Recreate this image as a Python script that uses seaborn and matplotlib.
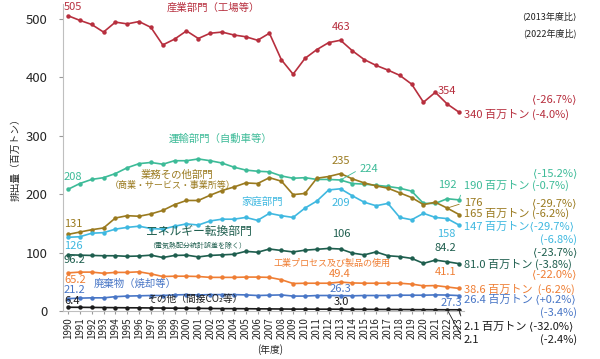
import matplotlib
matplotlib.use("Agg")
from matplotlib import pyplot as plt
import pandas as pd
import seaborn as sns

sns.set_style("ticks")
plt.rcParams['font.family'] = ['Noto Sans CJK JP', 'DejaVu Sans']

# data (million t CO2), fiscal years 1990-2023
years = list(range(1990, 2024))
industry = [505, 497, 490, 477, 494, 491, 495, 485, 455, 465,
            479, 466, 475, 477, 472, 469, 463, 475, 430, 405,
            432, 447, 459, 463, 445, 430, 420, 412, 403, 388,
            357, 374, 354, 340]
transport = [208, 218, 225, 228, 235, 245, 252, 254, 251, 257,
             257, 260, 257, 253, 246, 241, 239, 238, 231, 227,
             228, 225, 225, 224, 218, 217, 215, 213, 210, 205,
             184, 184, 192, 190]
commercial = [131, 135, 139, 142, 159, 163, 162, 166, 172, 182,
              189, 189, 198, 206, 212, 219, 218, 228, 222, 199,
              201, 227, 230, 235, 226, 219, 214, 210, 202, 194,
              182, 186, 176, 165]
household = [126, 127, 133, 134, 140, 143, 145, 141, 140, 145,
             149, 147, 154, 157, 157, 160, 155, 167, 163, 160,
             176, 188, 207, 209, 197, 186, 180, 184, 160, 156,
             167, 160, 158, 147]
energy = [96.2, 95.5, 95, 94.5, 94.5, 93.5, 94, 95.5, 91.5, 95,
          95.5, 92.5, 95, 96, 97, 102, 100.5, 106, 103.5, 101,
          104, 105.5, 107, 106, 99, 96, 101, 94.5, 93, 90,
          81.5, 87, 84.2, 81.0]
processes = [65.2, 66.5, 66.5, 64.5, 66, 66, 67, 63.5, 59, 59.5,
             59.5, 59, 57.5, 57.5, 57.5, 58, 58, 57.5, 53.5, 47,
             47.5, 47.5, 47.5, 49.4, 48, 47.5, 47.5, 47.5, 47.5, 46,
             43, 43.5, 41.1, 38.6]
waste = [21.2, 22, 22.5, 22.5, 24.5, 25.5, 26, 26.5, 26.5, 27.5,
         28, 27.5, 28, 28, 28, 27.5, 26.5, 27, 27.5, 25.5,
         25.5, 26.5, 26.5, 26.3, 26, 26.5, 26.5, 26.5, 27, 27,
         27, 27.5, 27.3, 26.4]
other = [6.4, 6.3, 6.1, 5.9, 5.7, 5.5, 5.4, 5.2, 5.0, 4.8,
         4.7, 4.5, 4.3, 4.1, 4.0, 3.9, 3.7, 3.6, 3.4, 3.2,
         3.2, 3.1, 3.1, 3.0, 2.9, 2.8, 2.7, 2.6, 2.5, 2.4,
         2.3, 2.2, 2.1, 2.1]

c_ind = '#b72f3e'
c_tra = '#3dbb98'
c_com = '#9a7a1f'
c_hou = '#3fb8e0'
c_ene = '#1e5e4e'
c_pro = '#ef7e34'
c_was = '#4876c6'
c_oth = '#1a1a1a'

series = {
    'industry': (industry, c_ind),
    'transport': (transport, c_tra),
    'commercial': (commercial, c_com),
    'household': (household, c_hou),
    'energy': (energy, c_ene),
    'processes': (processes, c_pro),
    'waste': (waste, c_was),
    'other': (other, c_oth),
}
df = pd.concat([pd.DataFrame({'year': years, 'value': v, 'sector': k})
                for k, (v, c) in series.items()], ignore_index=True)
palette = {k: c for k, (v, c) in series.items()}

fig = plt.figure(figsize=(6, 3.59), dpi=100)
ax = fig.add_axes([63 / 600, 1 - 311 / 359, 401 / 600, 307 / 359])
sns.lineplot(data=df, x='year', y='value', hue='sector', palette=palette,
             marker='o', markersize=3.2, markeredgewidth=0, linewidth=1.2,
             legend=False, ax=ax)

ax.set_xlim(1989.58, 2023.42)
ax.set_ylim(0, 525)
ax.set_yticks([0, 100, 200, 300, 400, 500])
ax.set_xticks(years)
ax.set_xticklabels([str(y) for y in years], rotation=90, fontsize=7)
ax.tick_params(axis='x', length=2.5, pad=2, color='#999999')
ax.tick_params(axis='y', labelsize=9.5, length=3, pad=8, color='#999999')
ax.set_xlabel('')
ax.set_ylabel('排出量（百万トン）', fontsize=7, labelpad=4)
sns.despine(ax=ax)
for s in ['left', 'bottom']:
    ax.spines[s].set_color('#bfbfbf')
    ax.spines[s].set_linewidth(0.8)

fig.text(270 / 600, 1 - 350 / 359, '(年度)', ha='center', va='center', fontsize=7)

num = 8
lab = 7.5
XR = 2032.95   # right edge of percentage column
XL = 2023.4    # left edge of end labels
XS = 1989.66   # left edge of start labels

texts = [
    ('505', XS, 520, c_ind, 'left', num),
    ('産業部門（工場等）', 2002.3, 518, c_ind, 'center', lab),
    ('463', 2013.04, 486, c_ind, 'center', num),
    ('⟨2013年度比⟩', XR, 502, '#222222', 'right', 6.5),
    ('(2022年度比)', XR, 475, '#222222', 'right', 6.5),
    ('354', 2021.22, 376.6, c_ind, 'left', num),
    ('⟨-26.7%⟩', XR, 362.4, c_ind, 'right', num),
    ('340 百万トン (-4.0%)', XL, 336.8, c_ind, 'left', num),
    ('235', 2013.04, 257, c_com, 'center', num),
    ('⟨-15.2%⟩', XR, 236.4, c_tra, 'right', num),
    ('192', 2021.22, 215.4, c_tra, 'left', num),
    ('⟨-29.7%⟩', XR, 185, c_com, 'right', num),
    ('165 百万トン (-6.2%)', XL, 167.5, c_com, 'left', num),
    ('147 百万トン⟨-29.7%⟩', XL, 145.3, c_hou, 'left', num),
    ('(-6.8%)', XR, 122.6, c_hou, 'right', num),
    ('158', 2021.14, 131.6, c_hou, 'left', num),
    ('84.2', 2020.97, 108.2, c_ene, 'left', num),
    ('⟨-23.7%⟩', XR, 101.4, c_ene, 'right', num),
    ('81.0 百万トン (-3.8%)', XL, 80.3, c_ene, 'left', num),
    ('41.1', 2020.97, 66, c_pro, 'left', num),
    ('⟨-22.0%⟩', XR, 62.7, c_pro, 'right', num),
    ('38.6 百万トン  (-6.2%)', XL, 37.6, c_pro, 'left', num),
    ('27.3', 2021.45, 14, c_was, 'left', num),
    ('26.4 百万トン ⟨+0.2%⟩', XL, 20.5, c_was, 'left', num),
    ('(-3.4%)', XR, -2.9, c_was, 'right', num),
    ('(-2.4%)', XR, -49.6, c_oth, 'right', num),
    ('208', XS, 229, c_tra, 'left', num),
    ('運輸部門（自動車等）', 2002.9, 294, c_tra, 'center', lab),
    ('業務その他部門', 1999.2, 232.5, c_com, 'center', lab),
    ('（商業・サービス・事業所等）', 1998.8, 215.4, c_com, 'center', 6.5),
    ('家庭部門', 2006.4, 186.8, c_hou, 'center', lab),
    ('209', 2013.04, 184, c_hou, 'center', num),
    ('131', XS, 148.7, c_com, 'left', num),
    ('126', XS, 111, c_hou, 'left', num),
    ('エネルギー転換部門', 2001.05, 135.6, c_ene, 'center', 8.5),
    ('（電気熱配分統計誤差を除く）', 2000.9, 111, c_ene, 'center', 5),
    ('106', 2013.04, 131.6, c_ene, 'center', num),
    ('96.2', XS, 87, c_ene, 'left', num),
    ('65.2', XS, 53, c_pro, 'left', num),
    ('工業プロセス及び製品の使用', 2012.3, 81.5, c_pro, 'center', 6.5),
    ('49.4', 2012.95, 62.7, c_pro, 'center', num),
    ('廃棄物（焼却等）', 1995.65, 45.6, c_was, 'center', lab),
    ('21.2', XS, 36, c_was, 'left', num),
    ('26.3', 2012.95, 37, c_was, 'center', num),
    ('6.4', XS, 17, c_oth, 'left', num),
    ('その他（間接CO₂等）', 2000.7, 20, c_oth, 'center', 7),
    ('3.0', 2013.04, 15, c_oth, 'center', num),
]
for t, x, y, c, ha, fs in texts:
    ax.text(x, y, t, color=c, ha=ha, va='center', fontsize=fs, clip_on=False)

# labels joined to their point by a thin leader line
i13 = years.index(2013)
leaders = [
    ('224', (2013, transport[i13]), (2014.64, 242.7), c_tra),
    ('190 百万トン (-0.7%)', (2023, transport[-1]), (XL, 215.4), c_tra),
    ('176', (2022, commercial[-2]), (XL, 185), c_com),
    ('2.1 百万トン ⟨-32.0%⟩', (2023, other[-1]), (XL, -25.6), c_oth),
    ('2.1', (2022, other[-2]), (XL, -49.6), c_oth),
]
for t, xy, xyt, c in leaders:
    ax.annotate(t, xy=xy, xytext=xyt, color=c, fontsize=num, ha='left', va='center',
                annotation_clip=False,
                arrowprops=dict(arrowstyle='-', color=c, lw=0.6, relpos=(0, 0.5),
                                shrinkA=1, shrinkB=1))

fig.savefig('out.png', dpi=100)
